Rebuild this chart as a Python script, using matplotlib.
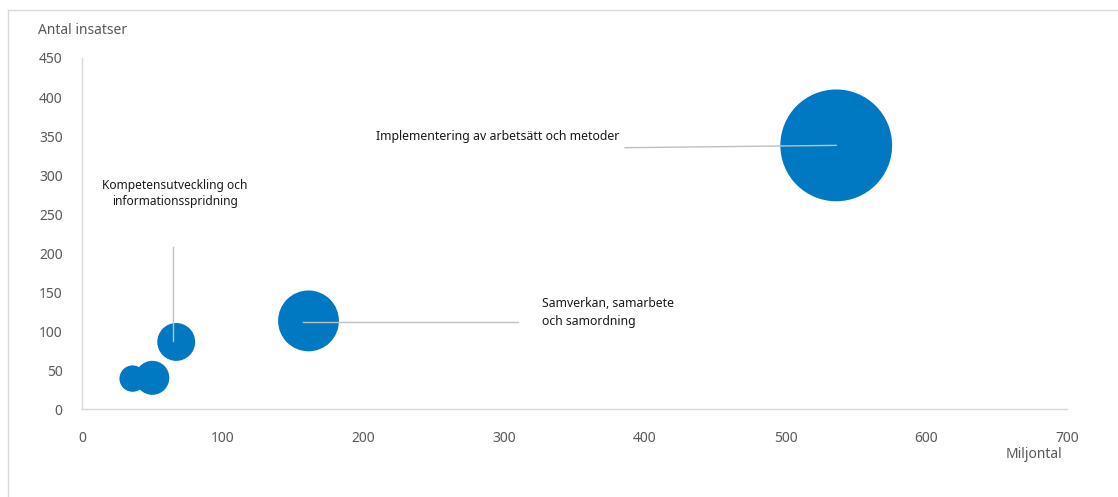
import matplotlib
matplotlib.use('Agg')
import matplotlib.pyplot as plt
from matplotlib.lines import Line2D

plt.rcParams['font.family'] = ['Noto Sans', 'DejaVu Sans']

# data
miljontal = [536, 161, 67, 50, 36]
antal_insatser = [338, 113, 86, 40, 39]
bubble_size = [540, 160, 62, 50, 30]

labels = ['Implementering av arbetsätt och metoder',
          'Samverkan, samarbete\noch samordning',
          'Kompetensutveckling och\ninformationsspridning']

blue = '#0079C2'
grey_txt = '#595959'
axis_col = '#D9D9D9'
leader = '#BFBFBF'

fig = plt.figure(figsize=(11.18, 4.97), dpi=100)
ax = fig.add_axes([0.0733, 0.177, 0.8811, 0.7063])

ax.scatter(miljontal, antal_insatser, s=[v * 12.0 for v in bubble_size],
           color=blue, edgecolors='none', zorder=2)

ax.set_xlim(0, 700)
ax.set_ylim(0, 450)
ax.set_xticks(range(0, 701, 100))
ax.set_yticks(range(0, 451, 50))
ax.tick_params(length=0, colors=grey_txt, labelsize=10)
ax.tick_params(axis='x', pad=16)
ax.tick_params(axis='y', pad=14)
for s in ['top', 'right']:
    ax.spines[s].set_visible(False)
for s in ['left', 'bottom']:
    ax.spines[s].set_color(axis_col)
    ax.spines[s].set_linewidth(1.0)

# leader lines and labels
ax.plot([386, miljontal[0]], [335, antal_insatser[0]], color=leader, lw=1, zorder=3)
ax.text(382, 349, labels[0], ha='right', va='center', fontsize=8.9, color='#1a1a1a')

ax.plot([157, 310], [111.5, 111.5], color=leader, lw=1, zorder=3)
ax.text(327, 124, labels[1], ha='left', va='center', fontsize=8.8, color='#1a1a1a',
        linespacing=1.5)

ax.plot([65, 65], [208, 87], color=leader, lw=1, zorder=3)
ax.text(66, 276, labels[2], ha='center', va='center', fontsize=8.6, color='#1a1a1a',
        linespacing=1.35)

fig.text(38 / 1118, 1 - 30 / 497, 'Antal insatser', ha='left', va='center',
         fontsize=10, color=grey_txt)
fig.text(1062 / 1118, 1 - 454 / 497, 'Miljontal', ha='right', va='center',
         fontsize=10, color=grey_txt)

# outer frame (only top and left visible)
fig.add_artist(Line2D([8 / 1118, 1.0], [1 - 10 / 497] * 2, color=axis_col, lw=1,
                      transform=fig.transFigure))
fig.add_artist(Line2D([8 / 1118] * 2, [0.0, 1 - 10 / 497], color=axis_col, lw=1,
                      transform=fig.transFigure))

fig.savefig('out.png', dpi=100)
